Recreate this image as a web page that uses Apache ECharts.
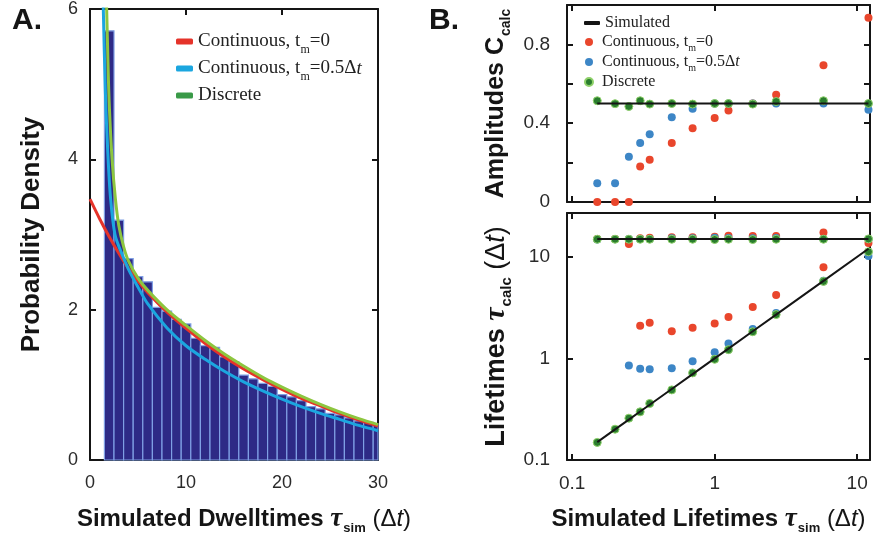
<!DOCTYPE html>
<html><head><meta charset="utf-8">
<script src="https://cdn.jsdelivr.net/npm/echarts@6/dist/echarts.min.js"></script>
<style>html,body{margin:0;padding:0;background:#fff}#c{width:874px;height:542px}</style>
</head><body><div id="c"></div>
<script>
// ---------- Panel A data ----------
const binCenters = [2,3,4,5,6,7,8,9,10,11,12,13,14,15,16,17,18,19,20,21,22,23,24,25,26,27,28,29,30];
const binHeights = [5.71,3.19,2.68,2.44,2.37,2.03,1.98,1.87,1.81,1.62,1.52,1.5,1.37,1.31,1.13,1.08,1.02,0.98,0.87,0.84,0.79,0.71,0.68,0.62,0.6,0.56,0.52,0.5,0.48];
const binWidth = 1;
const redCurveX = [0,1,2,3,4,5,6,8,10,12,14,16,18,20,22,24,26,28,30];
const redCurveY = [3.47,3.21,2.97,2.75,2.55,2.38,2.23,1.97,1.75,1.55,1.37,1.21,1.07,0.94,0.82,0.72,0.62,0.53,0.45];
const blueCurveX = [1.35,1.6,1.85,2.15,2.6,3.2,4,5,6,8,10,12,14,16,18,20,22,24,26,28,30];
const blueCurveY = [6.2,4.9,4.1,3.47,3.0,2.78,2.54,2.3,2.08,1.76,1.52,1.34,1.18,1.04,0.92,0.81,0.71,0.62,0.54,0.46,0.39];
const greenCurveX = [1.7,1.85,2,2.3,2.65,3,3.5,4,5,6,8,10,12,14,16,18,20,22,24,26,28,30];
const greenCurveY = [6.2,5.4,4.75,4.0,3.47,3.12,2.84,2.65,2.42,2.26,2.0,1.79,1.59,1.41,1.25,1.1,0.97,0.85,0.74,0.64,0.55,0.47];
const xTicksA = [0,10,20,30];
const yTicksA = [0,2,4,6];

// ---------- Panel B data ----------
const simX = [0.15,0.2,0.25,0.3,0.35,0.5,0.7,1,1.25,1.85,2.7,5.8,12];
const simAmp = [0.5,0.5,0.5,0.5,0.5,0.5,0.5,0.5,0.5,0.5,0.5,0.5,0.5];
const simTauLong = [15,15,15,15,15,15,15,15,15,15,15,15,15];
const simTauShort = [0.15,0.2,0.25,0.3,0.35,0.5,0.7,1,1.25,1.85,2.7,5.8,12];
const ampRed = [0,0,0,0.18,0.214,0.30,0.375,0.426,0.465,0.5,0.545,0.694,0.935];
const ampBlue = [0.095,0.095,0.23,0.30,0.344,0.43,0.473,0.5,0.5,0.5,0.5,0.5,0.468];
const ampGreen = [0.514,0.499,0.485,0.514,0.497,0.50,0.497,0.50,0.50,0.497,0.51,0.514,0.50];
const tauRedUpper = [15,15,13.4,15.2,15.4,15.6,15.6,15.8,16.1,16,16,17.4,13.7];
const tauRedLower = [null,null,null,2.1,2.24,1.85,2.0,2.2,2.56,3.2,4.2,7.9,null];
const tauBlueUpper = [14.8,14.9,15,15,15,15.2,15.2,15.4,15.3,15.2,15.3,15,15];
const tauBlueLower = [null,null,0.85,0.79,0.78,0.80,0.94,1.15,1.4,1.95,2.8,5.8,10.2];
const tauGreenUpper = [14.9,14.9,14.9,14.9,14.9,14.9,14.9,14.8,14.9,14.8,14.9,14.9,15];
const tauGreenLower = [0.149,0.201,0.258,0.298,0.36,0.49,0.72,0.98,1.22,1.83,2.7,5.73,11.2];
const ampTicks = [0,0.4,0.8];

const SANS = 'Liberation Sans', SERIF = 'Liberation Serif';
const INK = '#151515';

function pairs(xs, ys){ const out=[]; xs.forEach((x,i)=>{ if(ys[i]!==null && ys[i]!==undefined) out.push([x, ys[i]]); }); return out; }

function axis(o){
  const base = {
    axisLine:{show:true, onZero:false, lineStyle:{color:INK, width:2}},
    axisTick:{show:true, inside:true, length:6, lineStyle:{color:INK, width:2}},
    minorTick:{show:false},
    splitLine:{show:false},
    axisLabel:{show:false, color:'#2a2a2a', fontSize:18, fontFamily:SANS}
  };
  const r = Object.assign({}, base, o);
  if (o.axisLabel) r.axisLabel = Object.assign({}, base.axisLabel, o.axisLabel);
  return r;
}

function titleRich(fs){
  return {
    b:{fontFamily:SANS, fontWeight:'bold', fontSize:fs, color:INK},
    t:{fontFamily:SERIF, fontWeight:'bold', fontStyle:'italic', fontSize:fs+3, color:INK},
    s:{fontFamily:SANS, fontWeight:'bold', fontSize:Math.round(fs*0.56), color:INK, padding:[Math.round(fs*0.75),0,0,1]},
    n:{fontFamily:SANS, fontSize:fs, color:INK},
    i:{fontFamily:SANS, fontStyle:'italic', fontSize:fs, color:INK}
  };
}

const legendLabels = {
  'A-red':'{a|Continuous, t}{s|m}{a|=0}',
  'A-blue':'{a|Continuous, t}{s|m}{a|=0.5Δ}{i|t}',
  'A-green':'{a|Discrete}',
  'Simulated':'{a|Simulated}',
  'B-red':'{a|Continuous, t}{s|m}{a|=0}',
  'B-blue':'{a|Continuous, t}{s|m}{a|=0.5Δ}{i|t}',
  'B-green':'{a|Discrete}'
};
function legRich(fs, sfs, pad){
  return {
    a:{fontFamily:SERIF, fontSize:fs, color:'#222'},
    i:{fontFamily:SERIF, fontSize:fs, fontStyle:'italic', color:'#222'},
    s:{fontFamily:SERIF, fontSize:sfs, color:'#222', padding:[pad,0,0,0]}
  };
}

const COL = {aRed:'#e5332a', aBlue:'#1ba6df', aGreen:'#8dc63f', aGreenLeg:'#3a9a48',
             bRed:'#e9462c', bBlue:'#3d86c6', bGreen:'#2a7d2e', bGreenRim:'#8fd16a'};

const option = {
  animation:false,
  backgroundColor:'#fff',
  graphic:[
    {type:'text', left:12, top:6, style:{text:'A.', font:'bold 30px "Liberation Sans"', fill:INK}},
    {type:'text', left:429, top:6, style:{text:'B.', font:'bold 30px "Liberation Sans"', fill:INK}}
  ],
  grid:[
    {left:90, top:8, width:288, height:452},
    {left:567, top:5, width:303, height:197},
    {left:567, top:213, width:303, height:247}
  ],
  xAxis:[
    axis({type:'value', gridIndex:0, position:'bottom', min:xTicksA[0], max:xTicksA[3], interval:10,
      axisLabel:{show:true, margin:14},
      name:'{b|Simulated Dwelltimes }{t|τ}{s|sim}{n| (Δ}{i|t}{n|)}', nameLocation:'middle', nameGap:44,
      nameTextStyle:{rich:titleRich(24), padding:[0,0,0,20]}}),
    axis({type:'value', gridIndex:0, position:'top', min:0, max:30, interval:10}),
    axis({type:'log', gridIndex:1, position:'bottom', min:0.092, max:12.3, logBase:10}),
    axis({type:'log', gridIndex:1, position:'top', min:0.092, max:12.3, logBase:10}),
    axis({type:'log', gridIndex:2, position:'bottom', min:0.092, max:12.3, logBase:10,
      axisLabel:{show:true, margin:14, fontSize:19, showMinLabel:false, showMaxLabel:false},
      name:'{b|Simulated Lifetimes }{t|τ}{s|sim}{n| (Δ}{i|t}{n|)}', nameLocation:'middle', nameGap:44,
      nameTextStyle:{rich:titleRich(24), padding:[0,20,0,0]}}),
    axis({type:'log', gridIndex:2, position:'top', min:0.092, max:12.3, logBase:10})
  ],
  yAxis:[
    axis({type:'value', gridIndex:0, position:'left', min:yTicksA[0], max:yTicksA[3], interval:2,
      axisLabel:{show:true, margin:12},
      name:'Probability Density', nameLocation:'middle', nameRotate:90, nameGap:45,
      nameTextStyle:{fontFamily:SANS, fontWeight:'bold', fontSize:26, color:INK}}),
    axis({type:'value', gridIndex:0, position:'right', min:0, max:6, interval:2}),
    axis({type:'value', gridIndex:1, position:'left', min:0, max:1, interval:0.2,
      axisLabel:{show:true, margin:17, fontSize:19, formatter:function(v){
        for (const t of ampTicks){ if (Math.abs(v-t)<1e-9) return String(t); } return ''; }},
      name:'{b|Amplitudes C}{s|calc}', nameLocation:'middle', nameRotate:90, nameGap:54,
      nameTextStyle:{rich:titleRich(25)}}),
    axis({type:'value', gridIndex:1, position:'right', min:0, max:1, interval:0.2}),
    axis({type:'log', gridIndex:2, position:'left', min:0.1, max:27, logBase:10,
      axisLabel:{show:true, margin:17, fontSize:19, showMaxLabel:false},
      name:'{b|Lifetimes }{t|τ}{s|calc}{n| (Δ}{i|t}{n|)}', nameLocation:'middle', nameRotate:90, nameGap:53,
      nameTextStyle:{rich:titleRich(27)}}),
    axis({type:'log', gridIndex:2, position:'right', min:0.1, max:27, logBase:10})
  ],
  legend:[
    {orient:'vertical', left:176, top:32, padding:0, icon:'roundRect', itemWidth:17, itemHeight:6, itemGap:3,
      data:[{name:'A-red'},{name:'A-blue'},{name:'A-green', itemStyle:{color:COL.aGreenLeg}}],
      formatter:n=>legendLabels[n], textStyle:{rich:legRich(19,12,17)}},
    {orient:'vertical', left:584, top:15, padding:0, icon:'roundRect', itemWidth:16, itemHeight:4,
      data:['Simulated'], formatter:n=>legendLabels[n], textStyle:{rich:legRich(16,10,0)}},
    {orient:'vertical', left:584, top:34, padding:0, icon:'circle', itemWidth:16, itemHeight:8, itemGap:0.5,
      data:['B-red','B-blue','B-green'], formatter:n=>legendLabels[n], textStyle:{rich:legRich(16,10,13)}}
  ],
  series:[
    {type:'custom', name:'hist', xAxisIndex:0, yAxisIndex:0, z:1,
      data: binCenters.map((c,i)=>[c, binHeights[i]]),
      renderItem:function(params, api){
        const c = api.value(0), h = api.value(1);
        const p0 = api.coord([c - binWidth/2, h]);
        const p1 = api.coord([c + binWidth/2, 0]);
        const cs = params.coordSys;
        const r = echarts.graphic.clipRectByRect(
          {x:p0[0], y:p0[1], width:p1[0]-p0[0], height:p1[1]-p0[1]},
          {x:cs.x, y:cs.y, width:cs.width, height:cs.height});
        if (!r) return null;
        return {type:'rect', shape:r, style:{fill:'#2e2a86', stroke:'#7f9fe4', lineWidth:1.2}};
      }},
    {type:'line', name:'A-red', xAxisIndex:0, yAxisIndex:0, data:pairs(redCurveX, redCurveY), z:3,
      smooth:0.3, showSymbol:false, clip:true, lineStyle:{color:COL.aRed, width:3}, itemStyle:{color:COL.aRed}},
    {type:'line', name:'A-blue', xAxisIndex:0, yAxisIndex:0, data:pairs(blueCurveX, blueCurveY), z:3,
      smooth:0.3, showSymbol:false, clip:true, lineStyle:{color:COL.aBlue, width:3}, itemStyle:{color:COL.aBlue}},
    {type:'line', name:'A-green', xAxisIndex:0, yAxisIndex:0, data:pairs(greenCurveX, greenCurveY), z:3,
      smooth:0.3, showSymbol:false, clip:true, lineStyle:{color:COL.aGreen, width:3}, itemStyle:{color:COL.aGreen}},

    {type:'line', name:'Simulated', xAxisIndex:2, yAxisIndex:2, data:pairs(simX, simAmp),
      showSymbol:false, lineStyle:{color:INK, width:2}, itemStyle:{color:INK}},
    {type:'line', name:'Simulated', xAxisIndex:4, yAxisIndex:4, data:pairs(simX, simTauLong),
      showSymbol:false, lineStyle:{color:INK, width:2}, itemStyle:{color:INK}},
    {type:'line', name:'Simulated', xAxisIndex:4, yAxisIndex:4, data:pairs(simX, simTauShort),
      showSymbol:false, lineStyle:{color:INK, width:2}, itemStyle:{color:INK}},

    {type:'scatter', name:'B-red', xAxisIndex:2, yAxisIndex:2, data:pairs(simX, ampRed), symbolSize:8,
      itemStyle:{color:COL.bRed, opacity:1}},
    {type:'scatter', name:'B-red', xAxisIndex:4, yAxisIndex:4, data:pairs(simX, tauRedUpper).concat(pairs(simX, tauRedLower)), symbolSize:8,
      itemStyle:{color:COL.bRed, opacity:1}},
    {type:'scatter', name:'B-blue', xAxisIndex:2, yAxisIndex:2, data:pairs(simX, ampBlue), symbolSize:8,
      itemStyle:{color:COL.bBlue, opacity:1}},
    {type:'scatter', name:'B-blue', xAxisIndex:4, yAxisIndex:4, data:pairs(simX, tauBlueUpper).concat(pairs(simX, tauBlueLower)), symbolSize:8,
      itemStyle:{color:COL.bBlue, opacity:1}},
    {type:'scatter', name:'B-green', xAxisIndex:2, yAxisIndex:2, data:pairs(simX, ampGreen), symbolSize:8,
      itemStyle:{color:COL.bGreen, borderColor:COL.bGreenRim, borderWidth:1, opacity:1}},
    {type:'scatter', name:'B-green', xAxisIndex:4, yAxisIndex:4, data:pairs(simX, tauGreenUpper).concat(pairs(simX, tauGreenLower)), symbolSize:8,
      itemStyle:{color:COL.bGreen, borderColor:COL.bGreenRim, borderWidth:1, opacity:1}}
  ]
};

const chart = echarts.init(document.getElementById('c'));
chart.setOption(option);
</script>
</body></html>
